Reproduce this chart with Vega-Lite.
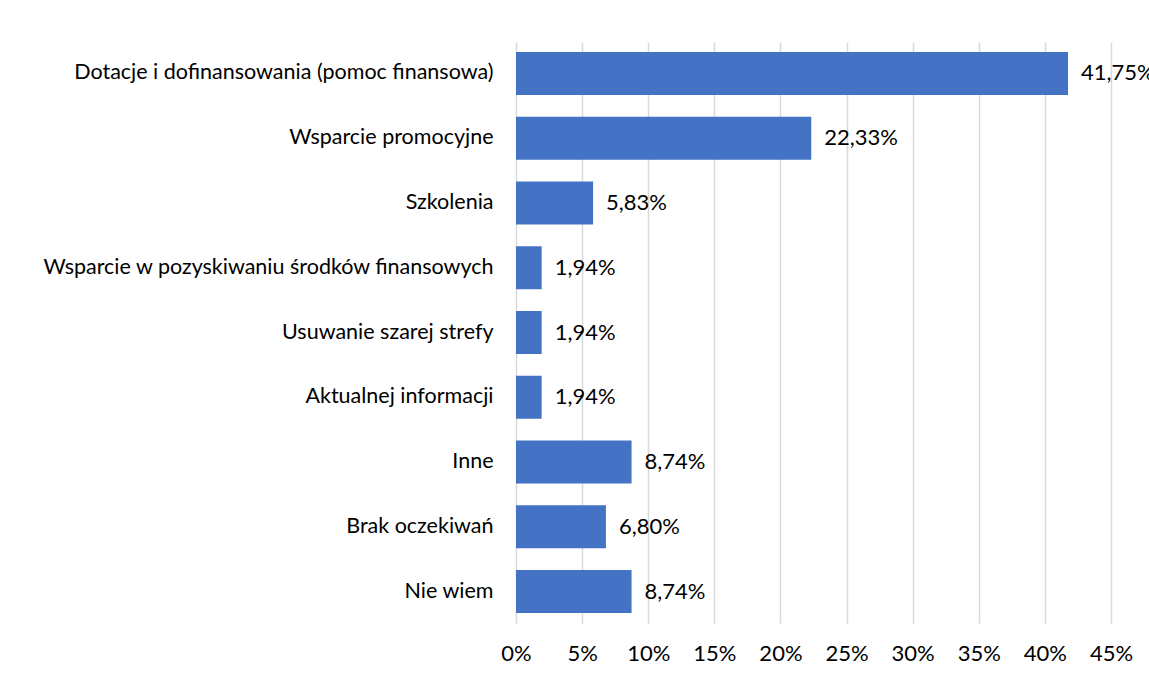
{
  "$schema": "https://vega.github.io/schema/vega-lite/v6.json",
  "width": 595,
  "height": 581,
  "autosize": {"type": "none"},
  "padding": {"left": 516, "top": 42, "right": 38, "bottom": 56},
  "background": "white",
  "config": {
    "locale": {"number": {"decimal": ",", "thousands": " ", "grouping": [3], "currency": ["", " zł"]}},
    "view": {"stroke": null},
    "font": "Lato"
  },
  "data": {
    "values": [
      {"kategoria": "Dotacje i dofinansowania (pomoc finansowa)", "wartosc": 0.4175},
      {"kategoria": "Wsparcie promocyjne", "wartosc": 0.2233},
      {"kategoria": "Szkolenia", "wartosc": 0.0583},
      {"kategoria": "Wsparcie w pozyskiwaniu środków finansowych", "wartosc": 0.0194},
      {"kategoria": "Usuwanie szarej strefy", "wartosc": 0.0194},
      {"kategoria": "Aktualnej informacji", "wartosc": 0.0194},
      {"kategoria": "Inne", "wartosc": 0.0874},
      {"kategoria": "Brak oczekiwań", "wartosc": 0.068},
      {"kategoria": "Nie wiem", "wartosc": 0.0874}
    ]
  },
  "encoding": {
    "y": {
      "field": "kategoria",
      "type": "nominal",
      "sort": null,
      "title": null,
      "scale": {"paddingInner": 0.336, "paddingOuter": 0.154},
      "axis": {"domain": false, "ticks": false, "labelPadding": 23, "labelFontSize": 21.5, "labelColor": "#000000", "labelLimit": 600, "labelFont": "Lato"}
    },
    "x": {
      "field": "wartosc",
      "type": "quantitative",
      "title": null,
      "scale": {"domain": [0, 0.45], "nice": false},
      "axis": {"format": ".0%", "values": [0, 0.05, 0.1, 0.15, 0.2, 0.25, 0.3, 0.35, 0.4, 0.45], "domain": false, "ticks": false, "labelPadding": 20, "labelFontSize": 22, "labelColor": "#000000", "gridColor": "#d9d9d9", "gridWidth": 1.5, "labelFlush": false}
    }
  },
  "layer": [
    {"mark": {"type": "bar", "color": "#4472C4"}},
    {
      "mark": {"type": "text", "align": "left", "dx": 13, "fontSize": 22, "color": "#000000"},
      "encoding": {"text": {"field": "wartosc", "type": "quantitative", "format": ".2%"}}
    }
  ]
}
